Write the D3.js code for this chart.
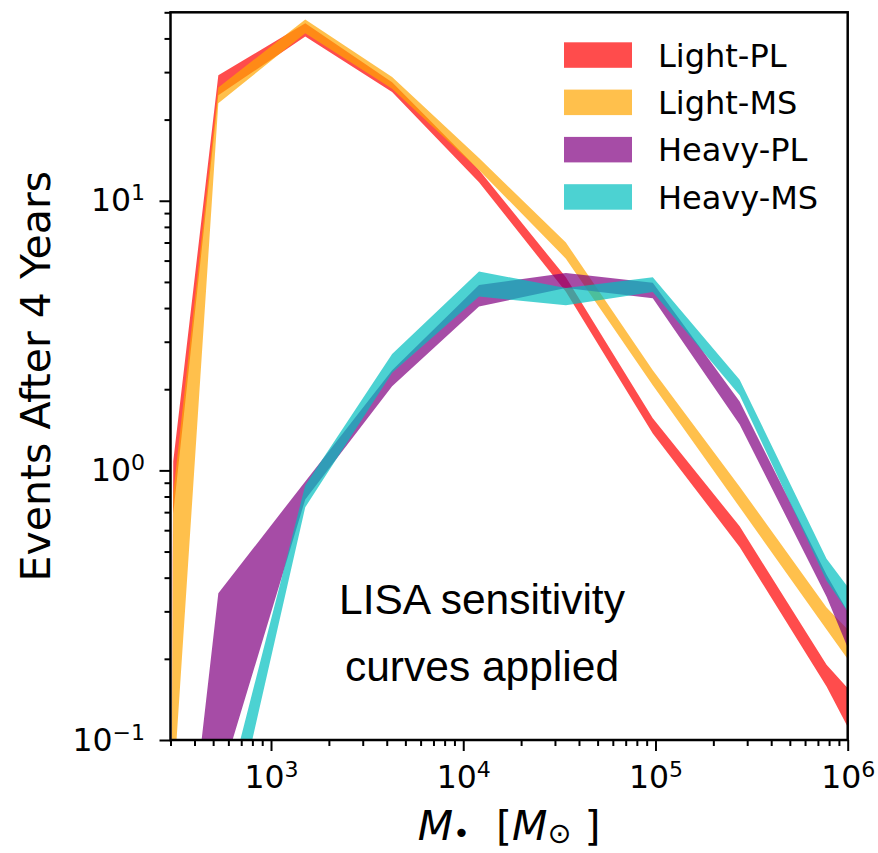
<!DOCTYPE html>
<html>
<head>
<meta charset="utf-8">
<script src="https://cdn.jsdelivr.net/npm/d3@7.9.0/dist/d3.min.js"></script>
<style>
  body { margin: 0; background: #fff; }
  svg { display: block; }
</style>
</head>
<body>
<div id="chart"></div>
<script>
// black hole mass bins (first one has no events)
const masses = [188, 310, 532, 1507, 4266, 12078, 34198, 96828, 274157, 776247, 2197900];

const lightPLLow  = [0, 0.69, 24.6, 40.7, 25.3, 11.7, 4.6, 1.37, 0.52, 0.158, 0.038];
const lightPLHigh = [0, 1.08, 29.2, 45.5, 27.5, 13.0, 5.2, 1.56, 0.62, 0.19, 0.084];
const lightMSLow  = [0, 0.065, 23.0, 41.8, 26.0, 13.0, 6.1, 2.07, 0.73, 0.257, 0.091];
const lightMSHigh = [0, 0.82, 26.3, 47.0, 28.8, 14.4, 7.0, 2.35, 0.87, 0.31, 0.144];
const heavyPLLow  = [0, 0.001, 0.067, 0.78, 2.05, 4.05, 4.75, 4.35, 1.48, 0.34, 0.057];
const heavyPLHigh = [0, 0.012, 0.35, 0.91, 2.35, 4.87, 5.4, 4.96, 1.8, 0.41, 0.113];
const heavyMSLow  = [0, 0.0005, 0.028, 0.73, 2.3, 4.41, 4.1, 4.59, 1.9, 0.39, 0.132];
const heavyMSHigh = [0, 0.002, 0.048, 0.88, 2.7, 5.46, 4.75, 5.2, 2.17, 0.47, 0.175];

const seriesNames = ['Light-PL', 'Light-MS', 'Heavy-PL', 'Heavy-MS'];
const seriesColors = ['rgb(255,0,0)', 'rgb(255,165,0)', 'rgb(128,0,128)', 'rgb(0,191,191)'];

const xMajor = [1e3, 1e4, 1e5, 1e6];
const yMajor = [0.1, 1, 10];

const width = 878;
const height = 853;
const margin = { top: 12.3, right: 30.3, bottom: 113, left: 170.5 };

const area = {
  top: margin.top,
  bottom: height - margin.bottom,
  left: margin.left,
  right: width - margin.right,
};

const svg = d3.select('#chart')
  .append('svg')
  .attr('width', width)
  .attr('height', height)
  .attr('viewBox', `0 0 ${width} ${height}`);

const xScale = d3.scaleLog().domain([300, 1e6]).range([area.left, area.right]);
const yScale = d3.scaleLog().domain([0.1, 50]).range([area.bottom, area.top]);

// zero counts get pushed far below the axis, like a log clip
const clip = (v) => (v > 0 ? v : 1e-30);

svg.append('clipPath').attr('id', 'plot-clip')
  .append('rect')
  .attr('x', area.left)
  .attr('y', area.top)
  .attr('width', area.right - area.left)
  .attr('height', area.bottom - area.top);

const bands = [
  [lightPLLow, lightPLHigh],
  [lightMSLow, lightMSHigh],
  [heavyPLLow, heavyPLHigh],
  [heavyMSLow, heavyMSHigh],
];

const bandArea = d3.area()
  .x(d => xScale(d.m))
  .y0(d => yScale(clip(d.lo)))
  .y1(d => yScale(clip(d.hi)));

const plot = svg.append('g').attr('clip-path', 'url(#plot-clip)');

bands.forEach(([lo, hi], i) => {
  const rows = masses.map((m, j) => ({ m, lo: lo[j], hi: hi[j] }));
  plot.append('path')
    .datum(rows)
    .attr('d', bandArea)
    .attr('fill', seriesColors[i])
    .attr('fill-opacity', 0.7);
});

// minor tick values
function minorTicks(lo, hi, majors) {
  const out = [];
  for (let e = Math.floor(Math.log10(lo)); e <= Math.ceil(Math.log10(hi)); e++) {
    for (let k = 2; k <= 9; k++) {
      const v = k * Math.pow(10, e);
      if (v >= lo * 0.999 && v <= hi * 1.001 && !majors.includes(v)) out.push(v);
    }
  }
  return out;
}

const font = 'DejaVu Sans, sans-serif';
const tickFont = 31.5;

function superscriptLabels(sel) {
  sel.selectAll('.tick text').each(function (d) {
    const t = d3.select(this);
    const exp = Math.round(Math.log10(d));
    t.text(null);
    t.append('tspan').text('10');
    t.append('tspan')
      .attr('font-size', '0.7em')
      .attr('dy', -11)
      .text(exp < 0 ? '\u2212' + (-exp) : exp);
  });
}

function styleAxis(g) {
  g.select('.domain').remove();
  g.selectAll('.tick line').attr('stroke', '#000').attr('stroke-width', 2);
  g.selectAll('text').attr('font-family', font).attr('font-size', tickFont).attr('fill', '#000');
}

// x axis
const xMinor = svg.append('g')
  .attr('transform', `translate(0,${area.bottom})`)
  .call(d3.axisBottom(xScale).tickValues(minorTicks(300, 1e6, xMajor)).tickSize(6).tickFormat(''));
styleAxis(xMinor);

const xAxis = svg.append('g')
  .attr('transform', `translate(0,${area.bottom})`)
  .call(d3.axisBottom(xScale).tickValues(xMajor).tickSize(11).tickPadding(15).tickFormat(d => d));
styleAxis(xAxis);
superscriptLabels(xAxis);

// y axis
const yMinor = svg.append('g')
  .attr('transform', `translate(${area.left},0)`)
  .call(d3.axisLeft(yScale).tickValues(minorTicks(0.1, 50, yMajor)).tickSize(6).tickFormat(''));
styleAxis(yMinor);

const yAxis = svg.append('g')
  .attr('transform', `translate(${area.left},0)`)
  .call(d3.axisLeft(yScale).tickValues(yMajor).tickSize(11).tickPadding(14.5).tickFormat(d => d));
styleAxis(yAxis);
superscriptLabels(yAxis);

// frame
svg.append('rect')
  .attr('x', area.left)
  .attr('y', area.top)
  .attr('width', area.right - area.left)
  .attr('height', area.bottom - area.top)
  .attr('fill', 'none')
  .attr('stroke', '#000')
  .attr('stroke-width', 2.5);

// axis labels
svg.append('text')
  .attr('transform', `translate(50,${(area.top + area.bottom) / 2}) rotate(-90)`)
  .attr('text-anchor', 'middle')
  .attr('font-family', font)
  .attr('font-size', 41)
  .text('Events After 4 Years');

const xLabel = svg.append('text')
  .attr('x', (area.left + area.right) / 2)
  .attr('y', 840)
  .attr('text-anchor', 'middle')
  .attr('font-family', font)
  .attr('font-size', 41)
  .style('white-space', 'pre');
xLabel.append('tspan').attr('font-style', 'italic').text('M');
xLabel.append('tspan').attr('font-size', '0.7em').attr('dy', 3).text('\u2022');
xLabel.append('tspan').attr('dy', -3).text('\u00a0\u00a0[');
xLabel.append('tspan').attr('font-style', 'italic').text('M');
xLabel.append('tspan').attr('font-size', '0.7em').attr('dy', 3).text('\u2299');
xLabel.append('tspan').attr('dy', -3).text('\u00a0]');

// annotation
const note = svg.append('text')
  .attr('text-anchor', 'middle')
  .attr('font-family', 'Liberation Sans, Arial, sans-serif')
  .attr('font-size', 42.5);
note.append('tspan').attr('x', 482).attr('y', 614).text('LISA sensitivity');
note.append('tspan').attr('x', 482).attr('y', 681).text('curves applied');

// legend
const legend = svg.append('g');
seriesNames.forEach((name, i) => {
  const top = 42.3 + i * 47.3;
  legend.append('rect')
    .attr('x', 564)
    .attr('y', top)
    .attr('width', 68)
    .attr('height', 25.5)
    .attr('fill', seriesColors[i])
    .attr('fill-opacity', 0.7);
  legend.append('text')
    .attr('x', 658)
    .attr('y', top + 24.5)
    .attr('font-family', font)
    .attr('font-size', 32)
    .text(name);
});
</script>
</body>
</html>
